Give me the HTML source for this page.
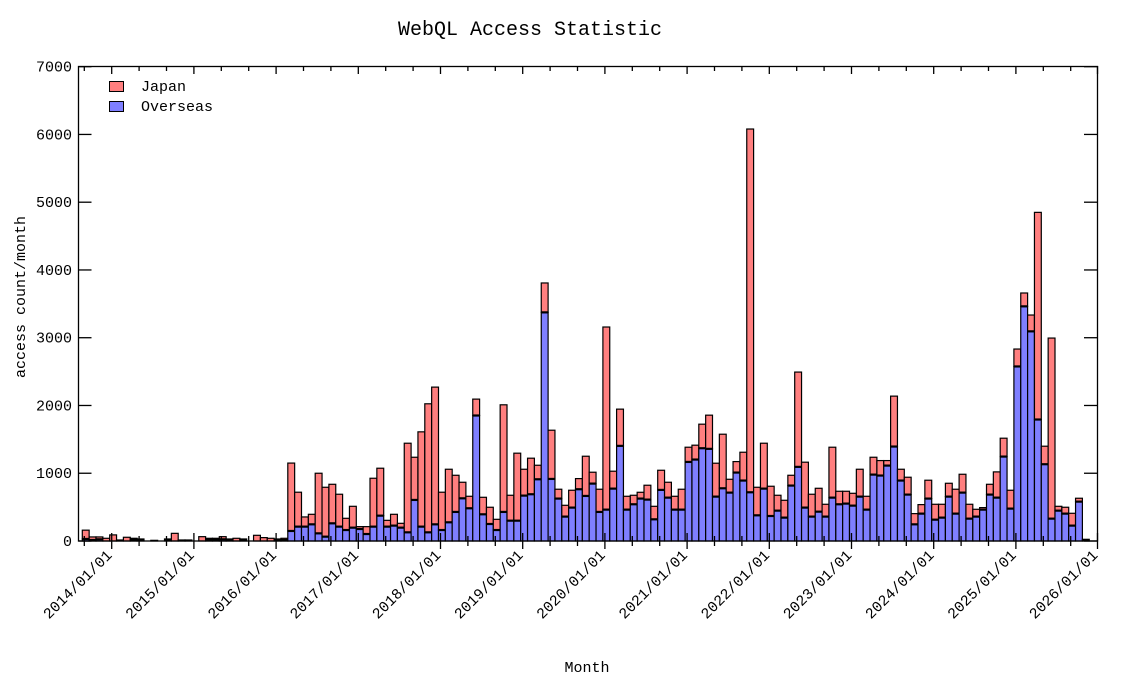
<!DOCTYPE html>
<html><head><meta charset="utf-8"><style>
body{margin:0;background:#fff;}
svg text{font-family:"Liberation Mono",monospace;fill:#000;}
</style></head><body>
<svg id="s" width="1133" height="680" xmlns="http://www.w3.org/2000/svg">
<text x="530" y="35" font-size="20" text-anchor="middle">WebQL Access Statistic</text>
<text x="587" y="672" font-size="15" text-anchor="middle">Month</text>
<text transform="translate(25,297) rotate(-90)" font-size="15" text-anchor="middle">access count/month</text>
<g id="bars"></g>
<rect x="78.5" y="66.5" width="1019" height="474.5" fill="none" stroke="#000" stroke-width="1.3"/>
<g id="ax" stroke="#000" stroke-width="1.3"></g>
<g id="lab" font-size="15"></g>
<rect x="109.5" y="81.5" width="14" height="10" fill="#ff7f7f" stroke="#000"/>
<rect x="109.5" y="101.5" width="14" height="10" fill="#7f7fff" stroke="#000"/>
<text x="141" y="91" font-size="15">Japan</text>
<text x="141" y="111" font-size="15">Overseas</text>
</svg>
<script>
var T=[160,60,60,40,90,15,55,40,30,0,10,0,30,113,15,15,0,64,40,40,64,30,40,30,0,84,50,40,30,40,
1150,720,355,394,1000,793,837,690,335,512,212,212,926,1074,305,394,261,1443,1236,1611,2025,2271,720,1059,970,867,660,2094,645,498,320,2010,675,1296,1059,1222,1118,3808,1635,764,527,749,921,1251,1015,764,3158,1030,1946,660,675,719,823,512,1044,867,660,764,1384,1414,1724,1857,1148,1576,911,1172,1310,6080,793,1443,808,675,601,970,2493,1163,690,778,542,1384,734,734,704,1059,660,1236,1187,1187,2138,1059,941,404,537,897,542,542,852,764,985,542,468,493,837,1020,1517,749,2833,3660,3335,4850,1399,2995,512,498,409,631,25];
var O=[30,15,25,0,0,15,0,20,15,0,0,0,0,0,0,0,0,0,20,20,25,0,0,0,0,0,0,0,15,15,
148,212,212,246,113,64,261,212,162,197,177,103,212,374,212,227,197,128,606,212,128,246,162,276,429,630,483,1852,394,251,162,429,300,300,670,690,911,3374,916,626,360,493,764,665,847,429,463,773,1404,463,542,626,611,320,754,640,463,463,1167,1202,1369,1360,655,778,714,1010,892,719,379,773,369,448,345,818,1094,493,360,433,360,640,542,552,522,655,463,980,966,1113,1394,892,685,246,404,626,315,345,655,404,714,330,360,463,685,640,1246,478,2576,3463,3094,1793,1133,330,448,404,227,581,25];
var NS="http://www.w3.org/2000/svg";
function el(p,t,a){var e=document.createElementNS(NS,t);for(var k in a)e.setAttribute(k,a[k]);p.appendChild(e);return e;}
function Y(v){return 541-v*0.06776;}
var g=document.getElementById('bars');
for(var i=0;i<T.length;i++){var x=82.3+6.85*i,w=6.85,t=T[i],o=Math.min(O[i],t);
 if(t-o>0)el(g,'rect',{x:x,y:Y(t),width:w,height:Y(o)-Y(t),fill:'#ff7f7f',stroke:'#000','stroke-width':1.2});
 if(o>0)el(g,'rect',{x:x,y:Y(o),width:w,height:541-Y(o),fill:'#7f7fff',stroke:'#000','stroke-width':1.2});
 if(o>0&&t>o)el(g,'line',{x1:x,x2:x+w,y1:Y(o),y2:Y(o),stroke:'#000','stroke-width':2.2});
 if(t<=30&&t>0)el(g,'rect',{x:x,y:Y(t),width:w,height:541-Y(t),fill:'#000'});}
var a=document.getElementById('ax'),L=document.getElementById('lab');
for(var v=0;v<=7000;v+=1000){var y=Y(v);el(a,'line',{x1:78.5,x2:91.5,y1:y,y2:y});el(a,'line',{x1:1084,x2:1097.5,y1:y,y2:y});
 var tx=el(L,'text',{x:72,y:y+5,'text-anchor':'end'});tx.textContent=v;}
for(var k=0;k<=37;k++){var x=84.3+k*27.4;if(k==37)x=1097.5;var maj=(k%3==1);
 if(maj){el(a,'line',{x1:x,x2:x,y1:533,y2:549});el(a,'line',{x1:x,x2:x,y1:66,y2:74});}
 else{el(a,'line',{x1:x,x2:x,y1:536,y2:546});el(a,'line',{x1:x,x2:x,y1:66,y2:71});}
 if(maj){var yr=2014+(k-1)/3;var tx=el(L,'text',{'text-anchor':'end',transform:'translate('+(x+1)+',556) rotate(-45)'});tx.textContent=yr+'/01/01';}}
</script>
</body></html>
